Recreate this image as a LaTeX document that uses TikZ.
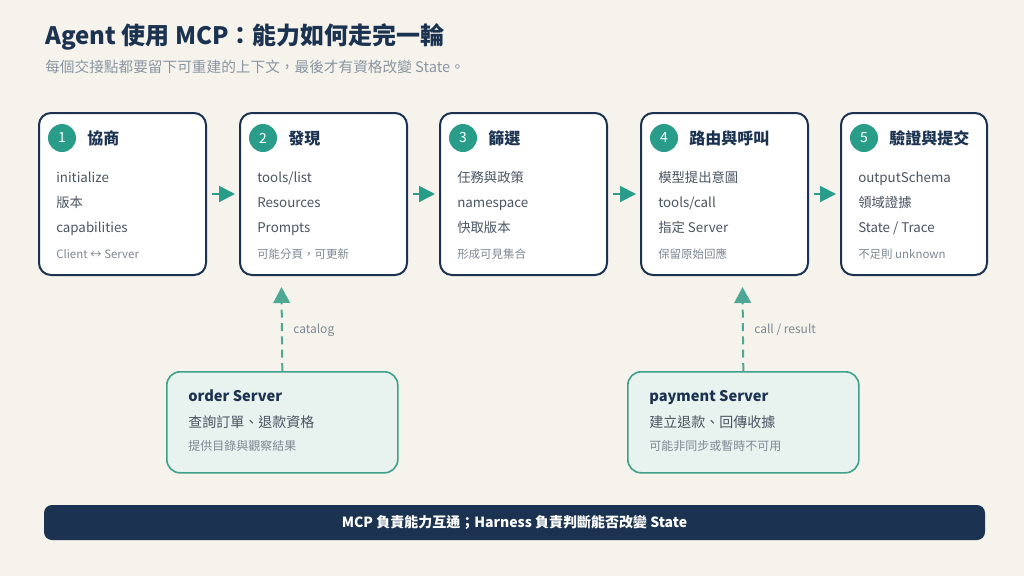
\documentclass[tikz,border=0pt]{standalone}
\usepackage{fontspec}
\setmainfont{Noto Sans CJK TC}
\usetikzlibrary{arrows.meta}
\definecolor{bg}{HTML}{F6F3EC}
\definecolor{navy}{HTML}{1B3350}
\definecolor{teal}{HTML}{2A9D8A}
\definecolor{bodytxt}{HTML}{4A5563}
\definecolor{smalltxt}{HTML}{7D8894}
\definecolor{subtxt}{HTML}{8A96A3}
\definecolor{srvfill}{HTML}{E8F2EE}
\definecolor{srvline}{HTML}{3FA08C}
\definecolor{dashcol}{HTML}{4FA894}
\tikzset{
  card/.style={draw=navy, line width=1.5pt, fill=white, rounded corners=9pt, anchor=north west, minimum height=121.5pt, inner sep=0pt},
  num/.style={circle, fill=teal, text=white, minimum size=21pt, inner sep=0pt, font=\fontsize{10.5}{12}\selectfont},
  head/.style={anchor=west, inner sep=0pt, text height=9pt, text depth=2pt, text=navy, font=\fontsize{12}{14}\selectfont\bfseries},
  item/.style={anchor=west, inner sep=0pt, text height=7.6pt, text depth=1.6pt, text=bodytxt, font=\fontsize{10}{12}\selectfont},
  note/.style={anchor=west, inner sep=0pt, text height=6.6pt, text depth=1.4pt, text=smalltxt, font=\fontsize{8.6}{10}\selectfont},
  flow/.style={draw=teal, line width=1.5pt, -{Triangle[length=12pt, width=12pt]}},
  srv/.style={draw=srvline, line width=1.2pt, fill=srvfill, rounded corners=10pt, anchor=north west, minimum width=173.25pt, minimum height=75.75pt, inner sep=0pt},
  srvhead/.style={anchor=west, inner sep=0pt, text height=8.4pt, text depth=1.8pt, text=navy, font=\fontsize{11}{13}\selectfont\bfseries},
  srvitem/.style={anchor=west, inner sep=0pt, text height=8pt, text depth=1.7pt, text=bodytxt, font=\fontsize{10.5}{12}\selectfont},
  srvnote/.style={anchor=west, inner sep=0pt, text height=6.9pt, text depth=1.5pt, text=smalltxt, font=\fontsize{9}{11}\selectfont},
  dflow/.style={draw=dashcol, line width=1.5pt, dash pattern=on 6pt off 4pt, -{Triangle[length=12pt, width=12.5pt]}},
  lbl/.style={anchor=west, inner sep=0pt, text height=6.9pt, text depth=1.5pt, text=smalltxt, font=\fontsize{9}{11}\selectfont},
}
\begin{document}
\begin{tikzpicture}[x=0.75pt, y=-0.75pt]
\useasboundingbox[fill=bg] (0,0) rectangle (1024,576);
\node[anchor=west, inner sep=0pt, text=navy, font=\fontsize{18}{21}\selectfont\bfseries] (title) at (45,37) {Agent 使用 MCP：能力如何走完一輪};
\node[anchor=west, inner sep=0pt, text=subtxt, font=\fontsize{11}{13}\selectfont] (sub) at (45,67) {每個交接點都要留下可重建的上下文，最後才有資格改變 State。};
\foreach \i/\L/\W/\h/\a/\b/\c/\d in {
  1/38/125.25/{協商}/{initialize}/{版本}/{capabilities}/{Client ↔ Server},
  2/239/125.25/{發現}/{tools/list}/{Resources}/{Prompts}/{可能分頁，可更新},
  3/439/125.25/{篩選}/{任務與政策}/{namespace}/{快取版本}/{形成可見集合},
  4/640/125.25/{路由與呼叫}/{模型提出意圖}/{tools/call}/{指定 Server}/{保留原始回應},
  5/840/109.5/{驗證與提交}/{outputSchema}/{領域證據}/{State / Trace}/{不足則 unknown}}
{
  \node[card, minimum width=\W pt] (b\i) at (\L,112) {};
  \node[num] (c\i) at (\L+24,138) {\i};
  \node[head] (h\i) at (\L+49,139.5) {\h};
  \node[item] (a\i) at (\L+18,178) {\a};
  \node[item] (p\i) at (\L+18,203) {\b};
  \node[item] (q\i) at (\L+18,228) {\c};
  \node[note] (n\i) at (\L+18,255) {\d};
}
\foreach \i/\j in {1/2,2/3,3/4,4/5}
  \draw[flow] ([xshift=3.75pt]b\i.east) -- ([xshift=-3pt]b\j.west);
% servers
\node[srv] (ord) at (166,371) {};
\node[srvhead] (ordh) at (188,397.5) {order Server};
\node[srvitem] (ordi) at (188,423) {查詢訂單、退款資格};
\node[srvnote] (ordn) at (188,447) {提供目錄與觀察結果};
\coordinate (t1) at (281.5,287);
\draw[dflow] (ord.north) -- (t1);
\node[lbl] (l1) at (293,329.5) {catalog};
\node[srv] (pay) at (627,371) {};
\node[srvhead] (payh) at (649,397.5) {payment Server};
\node[srvitem] (payi) at (649,423) {建立退款、回傳收據};
\node[srvnote] (payn) at (649,447) {可能非同步或暫時不可用};
\coordinate (t2) at (742.5,287);
\draw[dflow] (pay.north) -- (t2);
\node[lbl] (l2) at (754,329.5) {call / result};
% bottom bar
\node[fill=navy, rounded corners=6pt, minimum width=705.75pt, minimum height=26.25pt, inner sep=0pt, text=white, font=\fontsize{10.5}{12}\selectfont\bfseries] (bar) at (514.5,522.5) {MCP 負責能力互通；Harness 負責判斷能否改變 State};
\end{tikzpicture}
\end{document}
